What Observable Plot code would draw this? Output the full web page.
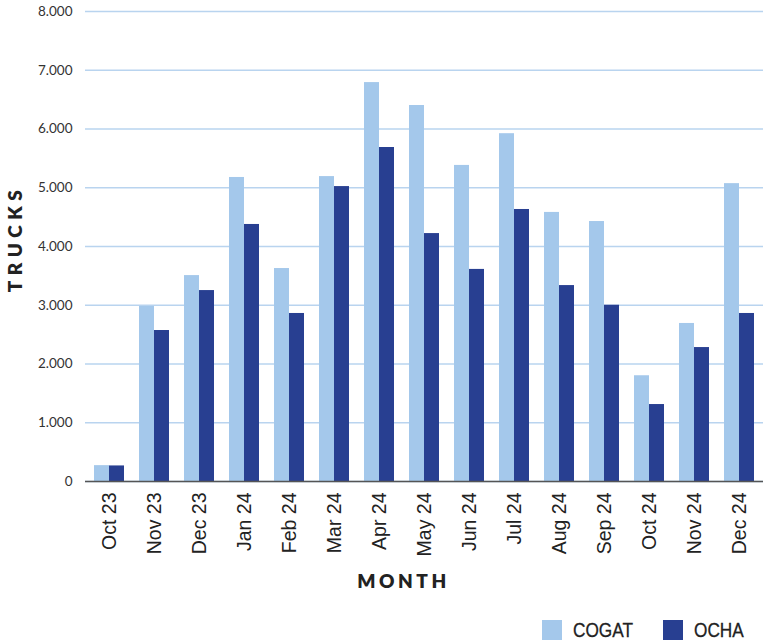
<!DOCTYPE html>
<html>
<head>
<meta charset="utf-8">
<script src="https://cdn.jsdelivr.net/npm/d3@7"></script>
<script src="https://cdn.jsdelivr.net/npm/@observablehq/plot@0.6"></script>
<style>
  html, body { margin: 0; padding: 0; background: #fff; }
  #chart svg { display: block; }
  .legend { position: relative; height: 36px; font-family: "Liberation Sans", Arial, sans-serif; font-size: 21px; color: #222; }
  .legend .item { position: absolute; top: 15px; display: flex; align-items: center; height: 20px; }
  .legend .sw { width: 20px; height: 20px; margin-right: 11px; }
  .legend span { display: inline-block; transform: scaleX(0.82); transform-origin: left center; -webkit-text-stroke: 0.3px #222; }
</style>
</head>
<body>
<div id="chart"></div>
<div class="legend">
  <div class="item" style="left:542px"><div class="sw" style="background:#a4c8eb"></div><span>COGAT</span></div>
  <div class="item" style="left:663px"><div class="sw" style="background:#283f91"></div><span>OCHA</span></div>
</div>
<script>
const months = ["Oct 23","Nov 23","Dec 23","Jan 24","Feb 24","Mar 24","Apr 24","May 24","Jun 24","Jul 24","Aug 24","Sep 24","Oct 24","Nov 24","Dec 24"];
const cogat = [270, 2980, 3505, 5175, 3625, 5190, 6790, 6400, 5380, 5920, 4580, 4425, 1800, 2690, 5070];
const ocha  = [265, 2570, 3250, 4375, 2860, 5020, 5685, 4220, 3610, 4630, 3335, 3000, 1310, 2280, 2860];
const yTicks = [0, 1000, 2000, 3000, 4000, 5000, 6000, 7000, 8000];

const rows = months.map((m, i) => ({month: m, cogat: cogat[i], ocha: ocha[i]}));
const fmt = d3.formatLocale({decimal: ",", thousands: ".", grouping: [3], currency: ["", ""]}).format(",d");

const chart = Plot.plot({
  width: 763,
  height: 605,
  marginLeft: 85,
  marginRight: 0,
  marginTop: 11,
  marginBottom: 124,
  style: {fontFamily: "Lato, sans-serif", color: "#333", overflow: "visible"},
  x: {domain: months, paddingInner: 0.34, paddingOuter: 0.15, label: null},
  y: {domain: [0, 8000], label: null},
  marks: [
    Plot.gridY(yTicks, {stroke: "#b9d4ef", strokeOpacity: 1, strokeWidth: 1.5}),
    Plot.axisY(yTicks, {tickSize: 0, tickPadding: 13, tickFormat: fmt, fontSize: 13.5, fill: "#333", label: null}),
    Plot.axisX({tickSize: 0, tickPadding: 11, tickRotate: -90, fontSize: 19.5, fontFamily: "Liberation Sans, Arial, sans-serif", fill: "#222", label: null}),
    Plot.barY(rows, {x: "month", y: "cogat", fill: "#a4c8eb", insetRight: 15}),
    Plot.barY(rows, {x: "month", y: "ocha", fill: "#283f91", insetLeft: 15}),
    Plot.ruleY([0], {stroke: "#555", strokeWidth: 1.5}),
    Plot.text(["MONTH"], {frameAnchor: "bottom", textAnchor: "middle", dx: -21, dy: 106, fontSize: 19, fontWeight: 800, fill: "#222", fontFamily: "Lato, sans-serif"}),
    Plot.text(["TRUCKS"], {frameAnchor: "left", textAnchor: "middle", rotate: -90, dx: -70, dy: -8, fontSize: 19, fontWeight: 800, fill: "#222", fontFamily: "Lato, sans-serif"})
  ]
});
chart.querySelectorAll("text").forEach(t => {
  if (t.textContent === "MONTH") t.style.letterSpacing = "3.5px";
  if (t.textContent === "TRUCKS") t.style.letterSpacing = "5.5px";
});
document.getElementById("chart").appendChild(chart);
</script>
</body>
</html>
